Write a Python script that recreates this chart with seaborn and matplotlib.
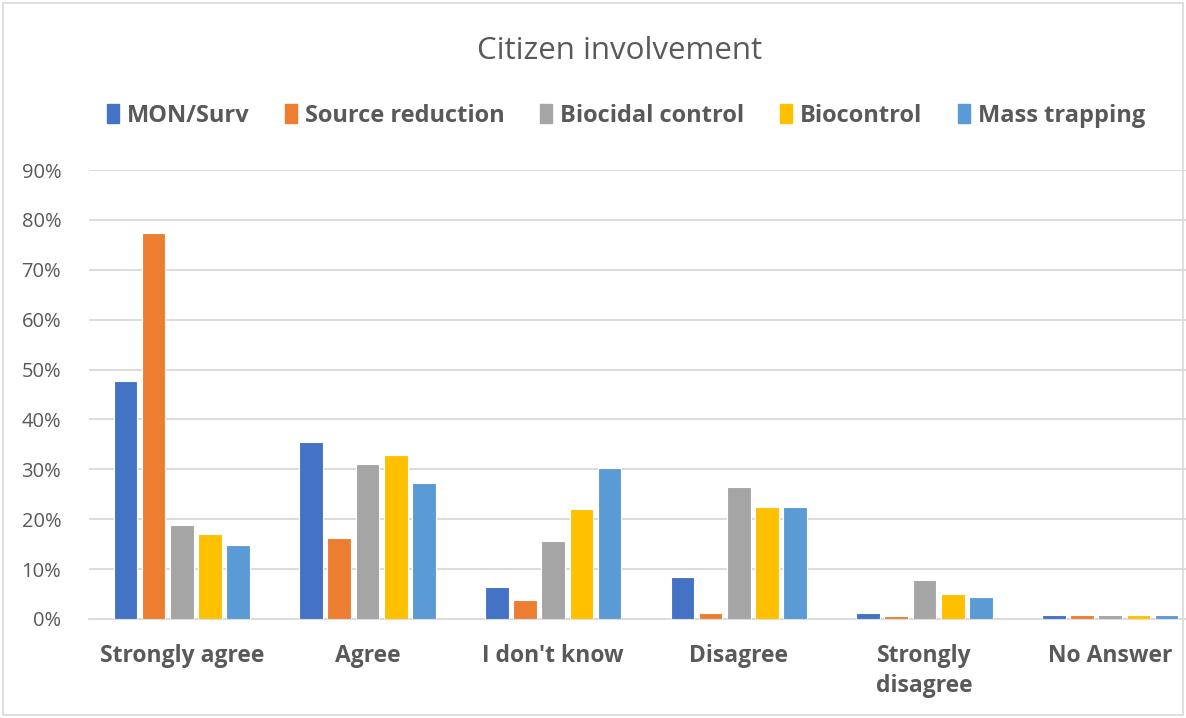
import numpy as np
import pandas as pd
import seaborn as sns
import matplotlib.pyplot as plt
from matplotlib.patches import Rectangle

# answers on the x axis
categories = ["Strongly agree", "Agree", "I don't know", "Disagree",
              "Strongly\ndisagree", "No Answer"]
series = ["MON/Surv", "Source reduction", "Biocidal control", "Biocontrol",
          "Mass trapping"]

# shares per answer (fraction of respondents)
mon_surv = [0.478, 0.354, 0.064, 0.084, 0.012, 0.008]
source_reduction = [0.773, 0.162, 0.039, 0.012, 0.007, 0.008]
biocidal_control = [0.188, 0.310, 0.156, 0.264, 0.078, 0.008]
biocontrol = [0.170, 0.329, 0.220, 0.225, 0.050, 0.008]
mass_trapping = [0.149, 0.272, 0.303, 0.225, 0.045, 0.008]

mypal = {"MON/Surv": "#4472C4", "Source reduction": "#ED7D31",
         "Biocidal control": "#A5A5A5", "Biocontrol": "#FFC000",
         "Mass trapping": "#5B9BD5"}

values = [mon_surv, source_reduction, biocidal_control, biocontrol, mass_trapping]
rows = []
for name, vals in zip(series, values):
    for cat, v in zip(categories, vals):
        rows.append({"Answer": cat, "Measure": name, "Share": v})
df = pd.DataFrame(rows)

sns.set_style("white")
plt.rcParams['font.family'] = ['Open Sans', 'DejaVu Sans']
txt = "#595959"

fig = plt.figure(figsize=(11.86, 7.18), dpi=100)
ax = fig.add_axes([89 / 1186, 99 / 718, 1114 / 1186, 449 / 718])

sns.barplot(data=df, x="Answer", y="Share", hue="Measure", palette=mypal,
            order=categories, hue_order=series, width=0.76, gap=0.16,
            saturation=1, edgecolor="white", linewidth=0.8, legend=False,
            ax=ax, zorder=3)

ax.set_ylim(0, 0.9)
ax.set_yticks(np.arange(0, 0.91, 0.1))
ax.set_yticklabels([f"{int(round(t * 100))}%" for t in np.arange(0, 0.91, 0.1)],
                   fontsize=14.5, color=txt)
ax.yaxis.grid(True, color="#d9d9d9", linewidth=1.3, zorder=0)
ax.set_axisbelow(True)
ax.set_xticks(range(len(categories)))
ax.set_xticklabels(categories, fontsize=16.5, fontweight="bold", color=txt,
                   linespacing=1.35)
ax.tick_params(axis="x", length=0, pad=18)
ax.tick_params(axis="y", length=0, pad=20)
ax.set_xlabel("")
ax.set_ylabel("")
for s in ["top", "right", "left"]:
    ax.spines[s].set_visible(False)
ax.spines["bottom"].set_color("#d9d9d9")
ax.spines["bottom"].set_linewidth(1.3)

fig.text(620 / 1186, 1 - 51 / 718, "Citizen involvement", ha="center",
         va="center", fontsize=22.5, color=txt)

handles = [Rectangle((0, 0), 1, 1, color=mypal[s]) for s in series]
leg = fig.legend(handles, series, loc="center", ncol=5,
                 bbox_to_anchor=(626 / 1186, 1 - 116 / 718), frameon=False,
                 handlelength=0.5, handleheight=0.85, handletextpad=0.35,
                 columnspacing=1.5, prop={"size": 17, "weight": "bold"})
for t in leg.get_texts():
    t.set_color(txt)

fig.patches.append(Rectangle((3 / 1186, 3 / 718), 1 - 6 / 1186, 1 - 6 / 718,
                             transform=fig.transFigure, fill=False,
                             edgecolor="#d9d9d9", linewidth=1.2))

fig.savefig("out.png", dpi=100)
